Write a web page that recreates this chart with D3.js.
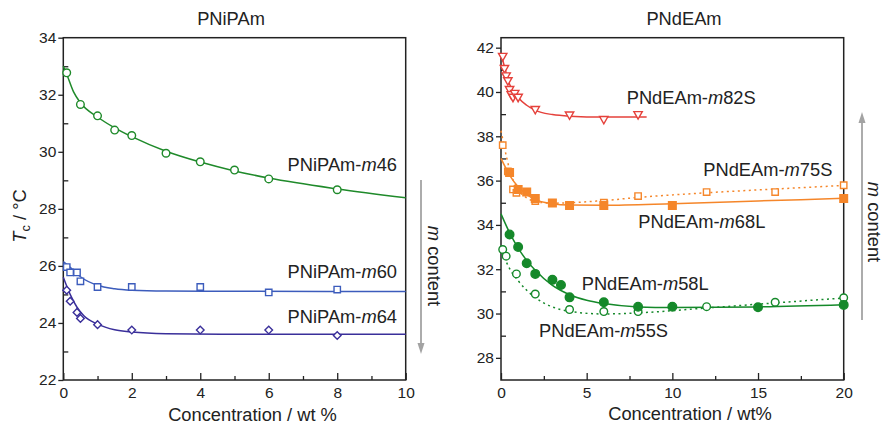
<!DOCTYPE html>
<html><head><meta charset="utf-8">
<script src="https://cdn.jsdelivr.net/npm/d3@7"></script>
<style>
body{margin:0;background:#fff}
svg{display:block;font-family:"Liberation Sans",Arial,Helvetica,sans-serif}
</style></head>
<body><svg id="c" width="885" height="424"></svg>
<script>
// ---------- DATA ----------
// Left panel: PNiPAm
const leftTitle = "PNiPAm";
const leftYTicks = [22,24,26,28,30,32,34];
const leftYMinor = [23,25,27,29,31,33];
const leftXTicks = [0,2,4,6,8,10];
const leftXMinor = [1,3,5,7,9];

const m46Pts = [[0.1,32.77],[0.5,31.66],[1,31.26],[1.5,30.76],[2,30.57],[3,29.95],[4,29.65],[5,29.36],[6,29.05],[8,28.67]];
const m46Fit = [[0,33.0],[0.1,32.72],[0.3,32.1],[0.5,31.72],[1,31.22],[1.5,30.84],[2,30.53],[3,30.02],[4,29.64],[5,29.33],[6,29.08],[8,28.7],[10,28.39]];
const m60Pts = [[0.1,25.96],[0.2,25.77],[0.4,25.77],[0.5,25.46],[1,25.26],[2,25.26],[4,25.26],[6,25.07],[8,25.17]];
const m60Fit = [[0,26.15],[0.2,25.95],[0.5,25.62],[1,25.32],[1.5,25.2],[2,25.15],[3,25.12],[5,25.11],[10,25.1]];
const m64Pts = [[0.1,25.15],[0.2,24.76],[0.4,24.37],[0.5,24.16],[1,23.94],[2,23.75],[4,23.75],[6,23.75],[8,23.56]];
const m64Fit = [[0,25.6],[0.2,25.0],[0.4,24.55],[0.6,24.25],[1,23.96],[1.5,23.76],[2,23.68],[3,23.62],[5,23.6],[10,23.6]];

// Right panel: PNdEAm
const rightTitle = "PNdEAm";
const rightYTicks = [28,30,32,34,36,38,40,42];
const rightYMinor = [29,31,33,35,37,39,41];
const rightXTicks = [0,5,10,15,20];
const rightXMinor = [2.5,7.5,12.5,17.5];

const m82SPts = [[0.1,41.6],[0.2,41.05],[0.3,40.72],[0.4,40.5],[0.5,40.1],[0.6,39.87],[0.7,39.75],[0.8,39.93],[1,39.75],[2,39.2],[4,38.95],[6,38.75],[8,38.97]];
const m82SFit = [[0,41.75],[0.2,41.15],[0.5,40.35],[1,39.75],[1.5,39.4],[2,39.17],[3,38.98],[4,38.91],[6,38.87],[8.5,38.87]];
const m75SPts = [[0.1,37.6],[0.4,36.42],[0.7,35.6],[0.9,35.45],[2,35.08],[6,35.0],[8,35.3],[12,35.48],[16,35.48],[20,35.79]];
const m75SFit = [[0,38.25],[0.2,37.5],[0.5,36.5],[1,35.6],[1.5,35.22],[2,35.06],[2.5,35.0],[3,34.98],[4,35.0],[6,35.1],[8,35.24],[12,35.45],[16,35.62],[20,35.78]];
const m68LPts = [[0.5,36.37],[1,35.6],[1.5,35.48],[2,35.19],[3,34.99],[4,34.88],[6,34.88],[10,34.88],[20,35.19]];
const m68LFit = [[0,37.0],[0.5,36.25],[1,35.72],[1.5,35.38],[2,35.14],[3,34.96],[4,34.9],[6,34.89],[10,34.96],[15,35.08],[20,35.2]];
const m58LPts = [[0.5,33.57],[1,33.0],[1.5,32.27],[2,31.79],[3,31.52],[3.5,31.29],[4,30.73],[6,30.51],[8,30.31],[10,30.31],[15,30.28],[20,30.39]];
const m58LFit = [[0,34.5],[0.5,33.65],[1,32.95],[1.5,32.4],[2,31.95],[3,31.27],[4,30.85],[5,30.6],[6,30.45],[8,30.3],[10,30.27],[15,30.3],[20,30.4]];
const m55SPts = [[0.1,32.89],[0.3,32.59],[0.9,31.79],[2,30.88],[4,30.18],[6,30.09],[8,30.09],[12,30.31],[16,30.51],[20,30.71]];
const m55SFit = [[0,33.0],[0.3,32.35],[0.6,31.9],[1,31.48],[1.5,31.05],[2,30.72],[3,30.3],[4,30.1],[6,29.98],[8,30.03],[12,30.25],[16,30.48],[20,30.7]];

// ---------- CHART ----------
const svg = d3.select("#c");
const FS = 18.3, TFS = 15.5;
const TOP = 37.7, BOT = 380;

const lx = d3.scaleLinear().domain([0,10]).range([63.3,405.7]);
const ly = d3.scaleLinear().domain([22,34]).range([BOT,TOP]);
const rx = d3.scaleLinear().domain([0,20]).range([501,843.7]);
const ry = d3.scaleLinear().domain([27,42.45]).range([BOT,TOP]);

const C = {green:"#1f8a2a", blue:"#3c5cbc", indigo:"#3a2f9a", red:"#e5413b", orange:"#f5862a", rgreen:"#15892a", grey:"#a3a3a3"};

function panel(x, y, xt, xm, yt, ym){
  const g = svg.append("g");
  g.append("g").attr("transform",`translate(${x.range()[0]},0)`)
    .call(d3.axisLeft(y).tickValues(ym).tickSize(-5).tickFormat(""))
    .call(a=>a.select(".domain").remove());
  g.append("g").attr("transform",`translate(${x.range()[0]},0)`)
    .call(d3.axisLeft(y).tickValues(yt).tickSize(5).tickPadding(2).tickFormat(d3.format("d")))
    .call(a=>a.select(".domain").remove());
  g.append("g").attr("transform",`translate(0,${BOT})`)
    .call(d3.axisBottom(x).tickValues(xm).tickSize(-4).tickFormat(""))
    .call(a=>a.select(".domain").remove());
  g.append("g").attr("transform",`translate(0,${BOT})`)
    .call(d3.axisBottom(x).tickValues(xt).tickSize(-7).tickPadding(3).tickFormat(d3.format("d")))
    .call(a=>a.select(".domain").remove())
    .call(a=>a.selectAll("text").attr("y",3).attr("dy","0.95em"));
  g.selectAll(".tick line").attr("stroke","#222").attr("stroke-width",1.3);
  g.selectAll(".tick text").attr("font-size",TFS).attr("fill","#222").attr("font-family","Liberation Sans, Arial, sans-serif");
  g.append("rect").attr("x",x.range()[0]).attr("y",TOP)
    .attr("width",x.range()[1]-x.range()[0]).attr("height",BOT-TOP)
    .attr("fill","none").attr("stroke","#222").attr("stroke-width",1.5);
  return g;
}
panel(lx, ly, leftXTicks, leftXMinor, leftYTicks, leftYMinor);
panel(rx, ry, rightXTicks, rightXMinor, rightYTicks, rightYMinor);

const plot = svg.append("g");
function fit(data, x, y, color, dashed){
  plot.append("path").datum(data)
    .attr("d", d3.line().x(d=>x(d[0])).y(d=>y(d[1])).curve(d3.curveMonotoneX))
    .attr("fill","none").attr("stroke",color).attr("stroke-width",1.5)
    .attr("stroke-dasharray", dashed ? "2,3.5" : null);
}
function marks(data, x, y, color, shape, filled){
  const g = plot.append("g");
  const s = g.selectAll("path").data(data).join("path")
    .attr("transform", d=>`translate(${x(d[0])},${y(d[1])})`)
    .attr("fill", filled ? color : "#fff")
    .attr("stroke", color).attr("stroke-width", 1.4);
  if(shape==="circle") s.attr("d", d3.arc()({innerRadius:0,outerRadius:filled?4.3:3.8,startAngle:0,endAngle:2*Math.PI}));
  if(shape==="square") s.attr("d", filled ? "M-3.8,-3.8H3.8V3.8H-3.8Z" : "M-3.2,-3.2H3.2V3.2H-3.2Z");
  if(shape==="diamond") s.attr("d","M0,-3.8L3.8,0L0,3.8L-3.8,0Z");
  if(shape==="tri") s.attr("d","M-4.2,-3.2L4.2,-3.2L0,4.2Z");
}

fit(m46Fit, lx, ly, C.green); fit(m60Fit, lx, ly, C.blue); fit(m64Fit, lx, ly, C.indigo);
marks(m46Pts, lx, ly, C.green, "circle", false);
marks(m60Pts, lx, ly, C.blue, "square", false);
marks(m64Pts, lx, ly, C.indigo, "diamond", false);
fit(m82SFit, rx, ry, C.red); fit(m75SFit, rx, ry, C.orange, true); fit(m68LFit, rx, ry, C.orange);
fit(m55SFit, rx, ry, C.rgreen, true); fit(m58LFit, rx, ry, C.rgreen);
marks(m82SPts, rx, ry, C.red, "tri", false);
marks(m75SPts, rx, ry, C.orange, "square", false);
marks(m68LPts, rx, ry, C.orange, "square", true);
marks(m55SPts, rx, ry, C.rgreen, "circle", false);
marks(m58LPts, rx, ry, C.rgreen, "circle", true);

function label(x, y, parts, anchor){
  const t = svg.append("text").attr("x",x).attr("y",y).attr("font-size",FS).attr("fill","#222")
    .attr("text-anchor",anchor||"start");
  parts.forEach(p=>{ const s=t.append("tspan").text(p[0]); if(p[1]) s.attr("font-style","italic"); });
  return t;
}
label(231,25,[[leftTitle]],"middle");
label(684,25,[[rightTitle]],"middle");
label(252.5,421,[["Concentration / wt %"]],"middle");
label(690,420,[["Concentration / wt%"]],"middle");

label(397,170.7,[["PNiPAm-"],["m",1],["46"]],"end");
label(397,278.3,[["PNiPAm-"],["m",1],["60"]],"end");
label(397,323.3,[["PNiPAm-"],["m",1],["64"]],"end");
label(626.7,104,[["PNdEAm-"],["m",1],["82S"]]);
label(703.3,175.7,[["PNdEAm-"],["m",1],["75S"]]);
label(638.3,228.3,[["PNdEAm-"],["m",1],["68L"]]);
label(581.7,290,[["PNdEAm-"],["m",1],["58L"]]);
label(539,336.7,[["PNdEAm-"],["m",1],["55S"]]);

const yt = svg.append("text").attr("transform","translate(26,216) rotate(-90)")
  .attr("text-anchor","middle").attr("font-size",FS).attr("fill","#222");
yt.append("tspan").text("T").attr("font-style","italic");
yt.append("tspan").text("c").attr("font-size",FS*0.7).attr("dy",4);
yt.append("tspan").text(" / °C").attr("dy",-4);

function arrow(x, y1, y2){
  const dir = y2>y1 ? 1 : -1;
  svg.append("line").attr("x1",x).attr("x2",x).attr("y1",y1).attr("y2",y2-dir*8)
    .attr("stroke",C.grey).attr("stroke-width",1.8);
  svg.append("path").attr("d",`M${x-3.5},${y2-dir*11}L${x+3.5},${y2-dir*11}L${x},${y2}Z`).attr("fill",C.grey);
}
arrow(421,180,354);
arrow(862,320,112);
function vtext(x, y){
  const t = svg.append("text").attr("transform",`translate(${x},${y}) rotate(90)`)
    .attr("text-anchor","middle").attr("font-size",FS).attr("fill","#222");
  t.append("tspan").text("m").attr("font-style","italic");
  t.append("tspan").text(" content");
}
vtext(428,266);
vtext(867.5,222);
</script></body></html>
